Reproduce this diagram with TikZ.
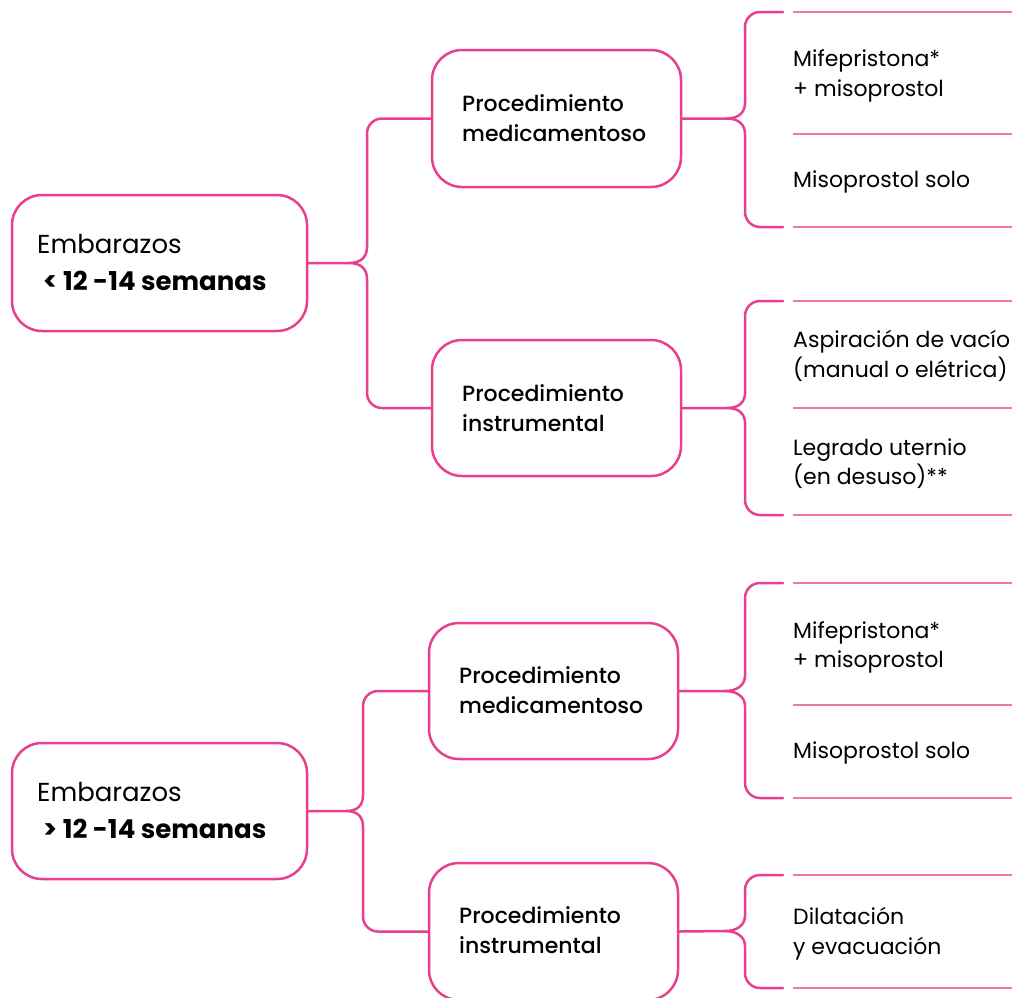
\documentclass[tikz,border=0pt]{standalone}
\usepackage{fontspec}
\setmainfont{Poppins}
\newfontfamily\pmed{Poppins Medium}
\begin{document}
\begin{tikzpicture}[x=1pt,y=-1pt,
  conn/.style={draw=pinkmain, line width=2.5pt, line cap=round},
  sep/.style={draw=pinklight, line width=1.1pt},
  box/.style={draw=pinkmain, line width=2.5pt, rounded corners=30pt, fill=white, inner sep=0pt},
  lbl/.style={anchor=base west, inner sep=0pt, font=\pmed\fontsize{22}{24}\selectfont},
  big/.style={anchor=base west, inner sep=0pt, font=\fontsize{26}{28}\selectfont},
  bigb/.style={anchor=base west, inner sep=0pt, font=\bfseries\fontsize{26}{28}\selectfont},
  item/.style={anchor=base west, inner sep=0pt, font=\fontsize{22}{24}\selectfont}
]
\definecolor{pinkmain}{HTML}{E8408F}
\definecolor{pinklight}{HTML}{EE76AC}
\useasboundingbox (0,0) rectangle (1017,997);
\fill[white] (0,0) rectangle (1017,997);

% ---------- boxes ----------
\node[box, minimum width=295pt, minimum height=136pt] (e1) at (159.5,263) {};
\node[box, minimum width=249pt, minimum height=137pt] (pm1) at (556.5,118.5) {};
\node[box, minimum width=249pt, minimum height=136pt] (pi1) at (556.5,408) {};
\node[box, minimum width=295pt, minimum height=136pt] (e2) at (159.5,811) {};
\node[box, minimum width=249pt, minimum height=136pt] (pm2) at (553.5,691) {};
\node[box, minimum width=249pt, minimum height=137pt] (pi2) at (553.5,931.5) {};

% ---------- box texts ----------
\node[big] (e1a) at (37,253) {Embarazos};
\node[bigb] (e1b) at (43,290) {< 12 -14 semanas};
\node[big] (e2a) at (37,801) {Embarazos};
\node[bigb] (e2b) at (43,838) {> 12 -14 semanas};

\node[lbl] (pm1a) at (462,111) {Procedimiento};
\node[lbl] (pm1b) at (462,141) {medicamentoso};
\node[lbl] (pi1a) at (462,401) {Procedimiento};
\node[lbl] (pi1b) at (462,431) {instrumental};
\node[lbl] (pm2a) at (459,683) {Procedimiento};
\node[lbl] (pm2b) at (459,713) {medicamentoso};
\node[lbl] (pi2a) at (459,923) {Procedimiento};
\node[lbl] (pi2b) at (459,953) {instrumental};

% ---------- right texts ----------
\node[item] (t1a) at (793,66) {Mifepristona*};
\node[item] (t1b) at (793,96) {+ misoprostol};
\node[item] (t2) at (793,187) {Misoprostol solo};
\node[item] (t3a) at (793,347) {Aspiración de vacío};
\node[item] (t3b) at (793,377) {(manual o elétrica)};
\node[item] (t4a) at (793,455) {Legrado uternio};
\node[item] (t4b) at (793,484) {(en desuso)**};
\node[item] (t5a) at (793,638) {Mifepristona*};
\node[item] (t5b) at (793,667) {+ misoprostol};
\node[item] (t6) at (793,758) {Misoprostol solo};
\node[item] (t7a) at (793,924) {Dilatación};
\node[item] (t7b) at (793,954) {y evacuación};

% ---------- left braces ----------
% group 1
\draw[conn] (e1.east) -- (349,263) .. controls (361,263) and (367,257) .. (367,247);
\draw[conn] (349,263) .. controls (361,263) and (367,269) .. (367,279);
\draw[conn, rounded corners=15pt] (367,247) |- (pm1.west);
\draw[conn, rounded corners=15pt] (367,279) |- (pi1.west);
% group 2
\draw[conn] (e2.east) -- (346,811) .. controls (358,811) and (363,805) .. (363,795);
\draw[conn] (346,811) .. controls (358,811) and (363,817) .. (363,827);
\draw[conn, rounded corners=15pt] (363,795) |- (pm2.west);
\draw[conn, rounded corners=15pt] (363,827) |- (pi2.west);

% ---------- right braces ----------
\coordinate (b1t) at (783,12);  \coordinate (b1b) at (783,227);
\coordinate (b2t) at (783,301); \coordinate (b2b) at (783,515);
\coordinate (b3t) at (783,583); \coordinate (b3b) at (783,798);
\coordinate (b4t) at (783,875); \coordinate (b4b) at (783,988);

\draw[conn] (pm1.east) -- (727,118.5) .. controls (739,118.5) and (745,112) .. (745,103);
\draw[conn] (727,118.5) .. controls (739,118.5) and (745,125) .. (745,134);
\draw[conn, rounded corners=15pt] (745,103) |- (b1t);
\draw[conn, rounded corners=15pt] (745,134) |- (b1b);

\draw[conn] (pi1.east) -- (727,408) .. controls (739,408) and (745,402) .. (745,393);
\draw[conn] (727,408) .. controls (739,408) and (745,414) .. (745,423);
\draw[conn, rounded corners=15pt] (745,393) |- (b2t);
\draw[conn, rounded corners=15pt] (745,423) |- (b2b);

\draw[conn] (pm2.east) -- (725,691) .. controls (737,691) and (745,685) .. (745,676);
\draw[conn] (725,691) .. controls (737,691) and (745,697) .. (745,706);
\draw[conn, rounded corners=15pt] (745,676) |- (b3t);
\draw[conn, rounded corners=15pt] (745,706) |- (b3b);

\draw[conn] (pi2.east) -- (725,931) .. controls (737,931) and (745,925) .. (745,916);
\draw[conn] (725,931) .. controls (737,931) and (745,937) .. (745,946);
\draw[conn, rounded corners=15pt] (745,916) |- (b4t);
\draw[conn, rounded corners=15pt] (745,946) |- (b4b);

% ---------- separator lines ----------
\draw[sep] (793,12) -- (1012,12);
\draw[sep] (793,134) -- (1012,134);
\draw[sep] (793,227) -- (1012,227);
\draw[sep] (793,301) -- (1012,301);
\draw[sep] (793,408) -- (1012,408);
\draw[sep] (793,515) -- (1012,515);
\draw[sep] (793,583) -- (1012,583);
\draw[sep] (793,705) -- (1012,705);
\draw[sep] (793,798) -- (1012,798);
\draw[sep] (793,875) -- (1012,875);
\draw[sep] (793,988) -- (1012,988);
\end{tikzpicture}
\end{document}
